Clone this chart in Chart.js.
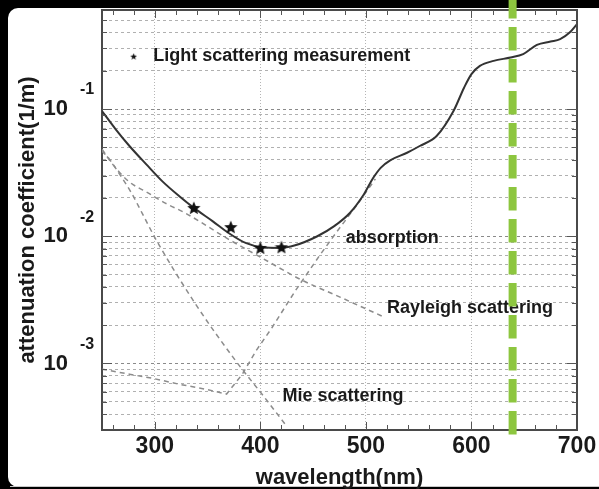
<!DOCTYPE html>
<html>
<head>
<meta charset="utf-8">
<script src="https://cdn.jsdelivr.net/npm/chart.js@4.4.1/dist/chart.umd.min.js"></script>
<style>
  html, body { margin: 0; padding: 0; background: #000; }
  #wrap { width: 599px; height: 489px; }
</style>
</head>
<body>
<div id="wrap"><canvas id="c" width="599" height="489"></canvas></div>
<script>
// ── Data ──────────────────────────────────────────────────────────────────
const totalWl  = [250, 263, 276, 292, 307, 323, 337, 355, 370, 386, 402, 418, 433, 454, 470, 485, 498, 507, 514, 523, 539, 551, 567, 583, 593, 600, 608, 621, 637, 649, 662, 675, 684, 693, 700];
const totalVal = [0.0964, 0.0692, 0.0512, 0.0367, 0.0271, 0.0207, 0.0167, 0.0131, 0.0106, 0.00886, 0.00818, 0.00809, 0.00849, 0.0100, 0.0120, 0.0153, 0.0213, 0.0288, 0.0345, 0.0395, 0.0453, 0.0512, 0.0613, 0.0964, 0.147, 0.188, 0.218, 0.239, 0.254, 0.270, 0.319, 0.339, 0.354, 0.399, 0.465];

const measWl  = [337, 372, 400, 420];
const measVal = [0.0167, 0.0118, 0.0081, 0.0082];

const rayWl  = [250, 260, 275, 294, 310, 329, 370, 402, 438, 476, 516];
const rayVal = [0.0484, 0.0369, 0.0271, 0.0218, 0.0182, 0.0152, 0.00946, 0.00671, 0.00458, 0.00331, 0.00234];

const mieWl  = [250, 257, 266, 278, 288, 301, 339, 377, 402, 424];
const mieVal = [0.0467, 0.0404, 0.0313, 0.0218, 0.0152, 0.00946, 0.00290, 0.00104, 0.000568, 0.000329];

const absWl  = [250, 276, 299, 323, 348, 368, 383, 396, 411, 433, 457, 473, 492, 509];
const absVal = [0.000902, 0.000824, 0.000761, 0.000687, 0.000628, 0.000575, 0.000824, 0.00126, 0.00191, 0.00371, 0.00722, 0.0110, 0.0178, 0.0282];

// axes
const xTickValues  = [300, 400, 500, 600, 700];
const xMinorTicks  = [260, 280, 300, 320, 340, 360, 380, 400, 420, 440, 460, 480, 500, 520, 540, 560, 580, 600, 620, 640, 660, 680];
const yGridValues  = [4e-4, 5e-4, 6e-4, 7e-4, 8e-4, 9e-4,
                      1e-3, 2e-3, 3e-3, 4e-3, 5e-3, 6e-3, 7e-3, 8e-3, 9e-3,
                      1e-2, 2e-2, 3e-2, 4e-2, 5e-2, 6e-2, 7e-2, 8e-2, 9e-2,
                      0.1, 0.2, 0.3, 0.4, 0.5];
const yDecades     = [0.1, 0.01, 0.001];
const yExpLabels   = ['-1', '-2', '-3'];

// text placed on the plot (anchor = left edge / vertical middle, in data units)
const legendText = 'Light scattering measurement';
const notes = [
  { text: 'absorption',          wl: 481, val: 0.0097 },
  { text: 'Rayleigh scattering', wl: 520, val: 0.00273 },
  { text: 'Mie scattering',      wl: 421, val: 0.000557 },
];
const markerWl = 639;   // green dashed marker

// ── Style ────────────────────────────────────────────────────────────────
const FONT   = "'Liberation Sans', Arial, Helvetica, sans-serif";
const INK    = '#1a1a1a';
const FRAME  = '#4a4a4a';
const DASHED = '#8c8c8c';
const GREEN  = '#8dc63f';

const pts = (xs, ys) => xs.map((x, i) => ({ x, y: ys[i] }));
const isDecade = v => Math.abs(Math.log10(v) - Math.round(Math.log10(v))) < 1e-6;

function makeStar(size, color) {
  const c = document.createElement('canvas');
  c.width = c.height = size;
  const g = c.getContext('2d');
  const r = size / 2, ri = r * 0.45;
  g.beginPath();
  for (let i = 0; i < 10; i++) {
    const a = -Math.PI / 2 + i * Math.PI / 5;
    const rr = i % 2 ? ri : r;
    g.lineTo(r + rr * Math.cos(a), r + 0.5 + rr * Math.sin(a));
  }
  g.closePath();
  g.fillStyle = color;
  g.fill();
  return c;
}
const starBig   = makeStar(14, '#111');
const starSmall = makeStar(7, '#111');

const dashedLine = (label, data, tension) => ({
  label, data,
  borderColor: DASHED,
  borderWidth: 1.5,
  borderDash: [5, 4],
  pointRadius: 0,
  fill: false,
  tension,
  cubicInterpolationMode: tension ? 'monotone' : 'default',
  order: 3,
});

// ── Plugins ──────────────────────────────────────────────────────────────
const panelPlugin = {
  id: 'panel',
  beforeDraw(chart) {
    const { ctx, width, height } = chart;
    ctx.save();
    ctx.fillStyle = '#000';
    ctx.fillRect(0, 0, width, height);
    ctx.fillStyle = '#fff';
    ctx.beginPath();
    ctx.roundRect(8, 8, width, height - 10, [10, 0, 0, 10]);
    ctx.fill();
    ctx.strokeStyle = '#c8c8c8';
    ctx.lineWidth = 1;
    ctx.beginPath();
    ctx.moveTo(10, height - 2.5);
    ctx.lineTo(width, height - 2.5);
    ctx.stroke();
    ctx.restore();
  },
};

const decorPlugin = {
  id: 'decor',
  afterDraw(chart) {
    const { ctx, chartArea: { left, right, top, bottom }, scales: { x, y } } = chart;
    ctx.save();

    // frame top / right
    ctx.strokeStyle = FRAME;
    ctx.lineWidth = 2;
    ctx.beginPath();
    ctx.moveTo(left, top);
    ctx.lineTo(right, top);
    ctx.lineTo(right, bottom);
    ctx.stroke();

    // inner tick marks
    ctx.lineWidth = 1;
    ctx.strokeStyle = '#555';
    ctx.beginPath();
    yGridValues.forEach(v => {
      const py = Math.round(y.getPixelForValue(v)) + 0.5;
      const len = isDecade(v) ? 10 : 5;
      ctx.moveTo(left, py);  ctx.lineTo(left + len, py);
      ctx.moveTo(right, py); ctx.lineTo(right - len, py);
    });
    xMinorTicks.forEach(v => {
      const px = Math.round(x.getPixelForValue(v)) + 0.5;
      const len = v % 100 === 0 ? 8 : 5;
      ctx.moveTo(px, bottom); ctx.lineTo(px, bottom - len);
      ctx.moveTo(px, top);    ctx.lineTo(px, top + len);
    });
    ctx.stroke();

    // exponents of the 10^n labels
    ctx.fillStyle = INK;
    ctx.font = `bold 16px ${FONT}`;
    ctx.textAlign = 'left';
    ctx.textBaseline = 'middle';
    yDecades.forEach((v, i) => {
      ctx.fillText(yExpLabels[i], 80, y.getPixelForValue(v) - 19);
    });

    // legend
    const ly = y.getPixelForValue(0.26);
    ctx.drawImage(starSmall, x.getPixelForValue(280) - 3.5, ly - 3.5);
    ctx.font = `bold 18px ${FONT}`;
    ctx.fillText(legendText, x.getPixelForValue(298.5), ly);

    // curve labels
    notes.forEach(n => {
      ctx.fillText(n.text, x.getPixelForValue(n.wl), y.getPixelForValue(n.val));
    });

    // green dashed marker
    const gx = x.getPixelForValue(markerWl);
    ctx.strokeStyle = GREEN;
    ctx.lineWidth = 8;
    ctx.setLineDash([23.5, 8.5]);
    ctx.beginPath();
    ctx.moveTo(gx, top - 15);
    ctx.lineTo(gx, bottom + 4.5);
    ctx.stroke();

    ctx.restore();
  },
};

// ── Chart ────────────────────────────────────────────────────────────────
new Chart(document.getElementById('c').getContext('2d'), {
  type: 'line',
  data: {
    datasets: [
      dashedLine('Rayleigh scattering', pts(rayWl, rayVal), 0.4),
      dashedLine('Mie scattering', pts(mieWl, mieVal), 0.4),
      dashedLine('absorption', pts(absWl, absVal), 0),
      {
        label: 'attenuation',
        data: pts(totalWl, totalVal),
        borderColor: '#333',
        borderWidth: 2,
        pointRadius: 0,
        fill: false,
        tension: 0.4,
        cubicInterpolationMode: 'monotone',
        order: 2,
      },
      {
        label: legendText,
        data: pts(measWl, measVal),
        showLine: false,
        pointStyle: starBig,
        pointRadius: 7,
        order: 1,
      },
    ],
  },
  options: {
    responsive: false,
    animation: false,
    devicePixelRatio: 1,
    layout: { padding: { left: 0, top: 10, right: 22, bottom: 0 } },
    plugins: {
      legend: { display: false },
      tooltip: { enabled: false },
    },
    scales: {
      x: {
        type: 'linear',
        min: 250,
        max: 700,
        afterBuildTicks: s => { s.ticks = xTickValues.map(v => ({ value: v })); },
        afterFit: s => { s.height = 59; s.paddingLeft = 0; s.paddingRight = 0; },
        grid: { color: '#b5b5b5', lineWidth: 1, drawTicks: false },
        border: { display: true, color: FRAME, width: 2, dash: [1, 2] },
        ticks: {
          autoSkip: false,
          maxRotation: 0,
          padding: 3,
          color: INK,
          font: { family: FONT, size: 23, weight: 'bold' },
        },
        title: {
          display: true,
          text: 'wavelength(nm)',
          color: INK,
          font: { family: FONT, size: 22, weight: 'bold', lineHeight: 1 },
          padding: { top: 0, bottom: 0 },
        },
      },
      y: {
        type: 'logarithmic',
        min: 3e-4,
        max: 0.6,
        afterBuildTicks: s => { s.ticks = yGridValues.map(v => ({ value: v })); },
        afterFit: s => { s.width = 102; s.paddingTop = 0; s.paddingBottom = 0; },
        grid: {
          color: c => isDecade(c.tick.value) ? '#8a8a8a' : '#b0b0b0',
          lineWidth: 1,
          drawTicks: false,
        },
        border: { display: true, color: FRAME, width: 2, dash: [3, 3] },
        ticks: {
          autoSkip: false,
          padding: 34,
          color: INK,
          font: { family: FONT, size: 22, weight: 'bold' },
          callback: v => isDecade(v) ? '10' : '',
        },
        title: {
          display: true,
          text: 'attenuation coefficient(1/m)',
          color: INK,
          font: { family: FONT, size: 22, weight: 'bold', lineHeight: 1 },
          padding: { top: 17, bottom: 0 },
        },
      },
    },
  },
  plugins: [panelPlugin, decorPlugin],
});
</script>
</body>
</html>
